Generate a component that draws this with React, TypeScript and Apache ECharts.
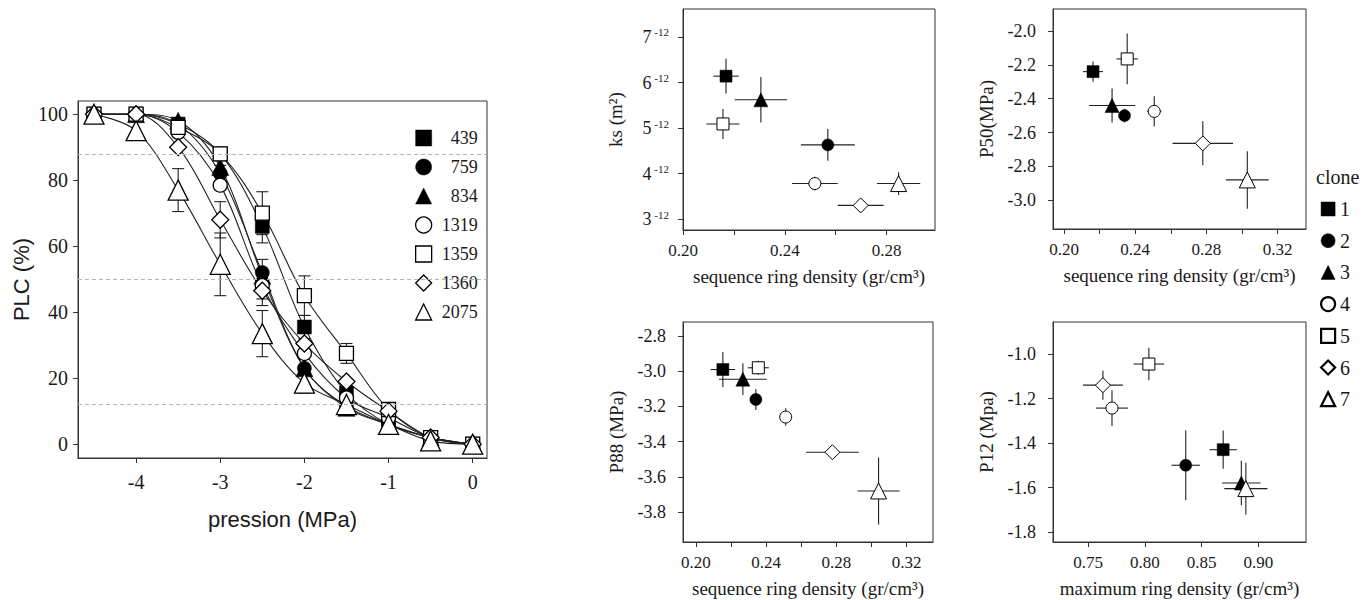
import React, { useEffect, useRef } from 'react';
import * as echarts from 'echarts';

// ---------- Left panel: vulnerability curves ----------
const pressure = [-4.5, -4, -3.5, -3, -2.5, -2, -1.5, -1, -0.5, 0];
const curveNames = ['439', '759', '834', '1319', '1359', '1360', '2075'];
const plc439 = [100, 100, 97, 88, 66, 35.5, 15.5, 6, 2, 0];
const plc759 = [100, 100, 97, 82, 52, 23, 11.5, 6, 2, 0];
const plc834 = [100, 100, 98, 84, 51, 23, 11, 6, 2, 0];
const plc1319 = [100, 100, 94.5, 78.5, 48, 27.5, 14, 8, 2, 0];
const plc1359 = [100, 100, 96, 88, 70, 45, 27.5, 10.5, 2, 0];
const plc1360 = [100, 100, 90, 68, 46.5, 30.5, 19, 10, 2, 0];
const plc2075 = [100, 95, 77, 54.5, 33.5, 18.5, 12, 6, 1, 0];
const plcErr439 = [0, 0, 0, 0, 5, 3.5, 3.5, 0, 0, 0];
const plcErr759 = [0, 0, 0, 2.5, 4, 0, 0, 0, 0, 0];
const plcErr834 = [0, 0, 0, 0, 0, 0, 0, 0, 0, 0];
const plcErr1319 = [0, 0, 0, 0, 4, 0, 0, 0, 0, 0];
const plcErr1359 = [0, 0, 0, 0, 6.5, 6, 3, 0, 0, 0];
const plcErr1360 = [0, 0, 0, 5.5, 4.5, 0, 0, 0, 0, 0];
const plcErr2075 = [0, 0, 6.5, 9.5, 7, 3, 0, 0, 0, 0];
const refLevels = [12, 50, 88];
const plcTicks = [0, 20, 40, 60, 80, 100];
const pressureTicks = [-4, -3, -2, -1, 0];

// ---------- Right panels (clones 1..7) ----------
const clones = ['1', '2', '3', '4', '5', '6', '7'];

const ksX = [0.2169, 0.2569, 0.2306, 0.2518, 0.2157, 0.2698, 0.2847];
const ksXErr = [0.005, 0.0106, 0.0103, 0.009, 0.0065, 0.009, 0.0085];
const ksY = [6.14, 4.63, 5.62, 3.78, 5.09, 3.3, 3.78];
const ksYErr = [0.38, 0.35, 0.5, 0.15, 0.33, 0.15, 0.25];

const p50X = [0.2163, 0.234, 0.227, 0.2507, 0.2355, 0.278, 0.303];
const p50XErr = [0.0056, 0.003, 0.013, 0.004, 0.006, 0.017, 0.012];
const p50Y = [-2.24, -2.5, -2.44, -2.475, -2.165, -2.664, -2.88];
const p50YErr = [0.06, 0.04, 0.1, 0.09, 0.15, 0.13, 0.17];

const p88X = [0.2153, 0.2341, 0.2267, 0.2511, 0.2355, 0.2777, 0.304];
const p88XErr = [0.007, 0.003, 0.0136, 0.003, 0.006, 0.015, 0.012];
const p88Y = [-2.99, -3.16, -3.045, -3.26, -2.98, -3.46, -3.68];
const p88YErr = [0.1, 0.06, 0.09, 0.05, 0.04, 0.03, 0.19];

const p12X = [0.869, 0.836, 0.885, 0.771, 0.8035, 0.763, 0.889];
const p12XErr = [0.012, 0.0125, 0.017, 0.014, 0.0135, 0.0176, 0.019];
const p12Y = [-1.43, -1.5, -1.58, -1.243, -1.045, -1.14, -1.605];
const p12YErr = [0.086, 0.157, 0.1, 0.08, 0.073, 0.065, 0.116];

const ksTicks = [3, 4, 5, 6, 7];
const seqTicksShort = [0.2, 0.22, 0.24, 0.26, 0.28, 0.3];
const seqLabelsShort = [0.2, 0.24, 0.28];
const seqTicks = [0.2, 0.22, 0.24, 0.26, 0.28, 0.3, 0.32];
const seqLabels = [0.2, 0.24, 0.28, 0.32];
const p50Ticks = [-3.0, -2.8, -2.6, -2.4, -2.2, -2.0];
const p88Ticks = [-3.8, -3.6, -3.4, -3.2, -3.0, -2.8];
const p12Ticks = [-1.8, -1.6, -1.4, -1.2, -1.0];
const maxTicks = [0.75, 0.8, 0.85, 0.9];

// ---------- styles ----------
const serif = 'Liberation Serif, Times New Roman, serif';
const sans = 'Liberation Sans, Arial, sans-serif';
const ink = '#1a1a1a';
const symbols = ['rect', 'circle', 'triangle', 'circle', 'rect', 'diamond', 'triangle'];
const filled = [true, true, true, false, false, false, false];
const bigSizes = [14, 14, 17, 14, 14, 17, 20];
const smallSizes = [12, 12, 14, 12, 12, 15, 16];

function axisBase(gridIndex: number, min: number, max: number, ticks: number[], labels: number[], fmt: any, fontSize: number, margin: number) {
  return {
    type: 'value',
    gridIndex,
    min,
    max,
    scale: true,
    splitLine: { show: false },
    axisLine: { show: true, onZero: false, lineStyle: { color: '#333', width: 1 } },
    axisTick: { show: true, inside: false, length: 5, customValues: ticks, lineStyle: { color: '#333' } },
    axisLabel: {
      show: true,
      customValues: labels,
      formatter: fmt,
      color: ink,
      fontSize,
      fontFamily: serif,
      margin,
    },
  };
}

function errRender(capHalf: number) {
  return (params: any, api: any) => {
    const x = api.value(0);
    const y = api.value(1);
    const xe = api.value(2);
    const ye = api.value(3);
    const c = api.coord([x, y]);
    const style = { stroke: '#222', lineWidth: 1.1 };
    const children: any[] = [];
    if (ye > 0) {
      const t = api.coord([x, y + ye]);
      const b = api.coord([x, y - ye]);
      children.push({ type: 'line', shape: { x1: c[0], y1: t[1], x2: c[0], y2: b[1] }, style });
      if (capHalf > 0) {
        children.push({ type: 'line', shape: { x1: c[0] - capHalf, y1: t[1], x2: c[0] + capHalf, y2: t[1] }, style });
        children.push({ type: 'line', shape: { x1: c[0] - capHalf, y1: b[1], x2: c[0] + capHalf, y2: b[1] }, style });
      }
    }
    if (xe > 0) {
      const l = api.coord([x - xe, y]);
      const r = api.coord([x + xe, y]);
      children.push({ type: 'line', shape: { x1: l[0], y1: c[1], x2: r[0], y2: c[1] }, style });
    }
    return { type: 'group', children };
  };
}

function itemStyleFor(i: number, bw: number) {
  return filled[i]
    ? { color: '#000', borderColor: '#000', borderWidth: 0.5, opacity: 1 }
    : { color: '#fff', borderColor: '#000', borderWidth: bw, opacity: 1 };
}

function buildOption() {
  const plcSeries = [plc439, plc759, plc834, plc1319, plc1359, plc1360, plc2075];
  const plcErrs = [plcErr439, plcErr759, plcErr834, plcErr1319, plcErr1359, plcErr1360, plcErr2075];

  const series: any[] = [];
  plcSeries.forEach((vals, i) => {
    const s: any = {
      type: 'line',
      name: 'curve-' + curveNames[i],
      xAxisIndex: 0,
      yAxisIndex: 0,
      data: pressure.map((p, k) => [p, vals[k]]),
      smooth: 0.35,
      showSymbol: false,
      symbol: 'none',
      lineStyle: { color: '#222', width: 1.1 },
      z: 1,
      silent: true,
    };
    if (i === 0) {
      s.markLine = {
        silent: true,
        symbol: ['none', 'none'],
        label: { show: false },
        lineStyle: { type: [4, 3], color: '#b5b5b5', width: 1 },
        data: refLevels.map((v) => ({ yAxis: v })),
      };
    }
    series.push(s);
  });
  plcSeries.forEach((vals, i) => {
    const data = pressure
      .map((p, k) => [p, vals[k], 0, plcErrs[i][k]])
      .filter((d) => d[3] > 0);
    series.push({
      type: 'custom',
      name: 'err-' + curveNames[i],
      xAxisIndex: 0,
      yAxisIndex: 0,
      data,
      renderItem: errRender(6),
      encode: { x: 0, y: 1 },
      z: 2,
      silent: true,
    });
  });
  plcSeries.forEach((vals, i) => {
    series.push({
      type: 'scatter',
      name: curveNames[i],
      xAxisIndex: 0,
      yAxisIndex: 0,
      data: pressure.map((p, k) => [p, vals[k]]),
      symbol: symbols[i],
      symbolSize: bigSizes[i],
      itemStyle: itemStyleFor(i, 1.3),
      z: 3,
      silent: true,
    });
  });

  const panels = [
    { xs: ksX, xe: ksXErr, ys: ksY, ye: ksYErr },
    { xs: p50X, xe: p50XErr, ys: p50Y, ye: p50YErr },
    { xs: p88X, xe: p88XErr, ys: p88Y, ye: p88YErr },
    { xs: p12X, xe: p12XErr, ys: p12Y, ye: p12YErr },
  ];
  panels.forEach((pn, pi) => {
    const axisIdx = pi + 1;
    series.push({
      type: 'custom',
      name: 'err-panel-' + pi,
      xAxisIndex: axisIdx,
      yAxisIndex: axisIdx,
      data: clones.map((_, i) => [pn.xs[i], pn.ys[i], pn.xe[i], pn.ye[i]]),
      renderItem: errRender(0),
      encode: { x: 0, y: 1 },
      z: 2,
      silent: true,
    });
    clones.forEach((c, i) => {
      series.push({
        type: 'scatter',
        name: c,
        xAxisIndex: axisIdx,
        yAxisIndex: axisIdx,
        data: [[pn.xs[i], pn.ys[i]]],
        symbol: symbols[i],
        symbolSize: smallSizes[i],
        itemStyle: itemStyleFor(i, 1),
        z: 3,
        silent: true,
      });
    });
  });

  const f2 = (v: number) => Number(v).toFixed(2);
  const f1 = (v: number) => Number(v).toFixed(1);
  const f0 = (v: number) => String(Math.round(Number(v)));
  const ksFmt = (v: number) => `{a|${Math.round(Number(v))}}{b| -12}`;

  const smallNameStyle = { fontFamily: serif, fontSize: 19, color: ink };

  const xAxis: any[] = [
    { ...axisBase(0, -4.69, 0.17, pressureTicks, pressureTicks, f0, 20, 14), name: 'pression (MPa)', nameLocation: 'middle', nameGap: 50, nameTextStyle: { fontFamily: sans, fontSize: 22, color: ink } },
    { ...axisBase(1, 0.2, 0.299, seqTicksShort, seqLabelsShort, f2, 17, 12), name: 'sequence ring density (gr/cm³)', nameLocation: 'middle', nameGap: 37, nameTextStyle: smallNameStyle },
    { ...axisBase(2, 0.1938, 0.336, seqTicks, seqLabels, f2, 17, 12), name: 'sequence ring density (gr/cm³)', nameLocation: 'middle', nameGap: 37, nameTextStyle: smallNameStyle },
    { ...axisBase(3, 0.1926, 0.335, seqTicks, seqLabels, f2, 17, 12), name: 'sequence ring density (gr/cm³)', nameLocation: 'middle', nameGap: 37, nameTextStyle: smallNameStyle },
    { ...axisBase(4, 0.719, 0.942, maxTicks, maxTicks, f2, 17, 12), name: 'maximum ring density (gr/cm³)', nameLocation: 'middle', nameGap: 37, nameTextStyle: smallNameStyle },
  ];
  const ksAxis: any = axisBase(1, 2.76, 7.615, ksTicks, ksTicks, ksFmt, 18, 14);
  ksAxis.axisLabel.rich = {
    a: { fontFamily: serif, fontSize: 18, color: ink, lineHeight: 20 },
    b: { fontFamily: serif, fontSize: 11, color: ink, lineHeight: 11, verticalAlign: 'top' },
  };
  const yAxis: any[] = [
    { ...axisBase(0, -4.2, 104, plcTicks, plcTicks, f0, 20, 10), name: 'PLC (%)', nameLocation: 'middle', nameGap: 46, nameRotate: 90, nameTextStyle: { fontFamily: sans, fontSize: 22, color: ink } },
    { ...ksAxis, name: 'ks (m²)', nameLocation: 'middle', nameGap: 58, nameRotate: 90, nameTextStyle: smallNameStyle },
    { ...axisBase(2, -3.17, -1.87, p50Ticks, p50Ticks, f1, 18, 17), name: 'P50(MPa)', nameLocation: 'middle', nameGap: 57, nameRotate: 90, nameTextStyle: smallNameStyle },
    { ...axisBase(3, -3.97, -2.72, p88Ticks, p88Ticks, f1, 18, 17), name: 'P88 (MPa)', nameLocation: 'middle', nameGap: 57, nameRotate: 90, nameTextStyle: smallNameStyle },
    { ...axisBase(4, -1.845, -0.856, p12Ticks, p12Ticks, f1, 18, 17), name: 'P12 (Mpa)', nameLocation: 'middle', nameGap: 57, nameRotate: 90, nameTextStyle: smallNameStyle },
  ];

  const gridStyle = { show: true, borderColor: '#333', borderWidth: 1, backgroundColor: 'transparent' };

  return {
    animation: false,
    backgroundColor: '#fff',
    title: {
      text: 'clone',
      left: 1316,
      top: 167,
      padding: 0,
      textStyle: { fontFamily: serif, fontSize: 20, fontWeight: 'normal', color: ink },
    },
    grid: [
      { ...gridStyle, left: 78, top: 101, width: 409, height: 357 },
      { ...gridStyle, left: 683, top: 9, width: 252, height: 221 },
      { ...gridStyle, left: 1053, top: 9, width: 253, height: 220 },
      { ...gridStyle, left: 683, top: 322, width: 250, height: 220 },
      { ...gridStyle, left: 1053, top: 322, width: 253, height: 220 },
    ],
    legend: [
      {
        orient: 'vertical',
        left: 415,
        top: 129,
        padding: 0,
        itemWidth: 16,
        itemHeight: 16,
        itemGap: 11,
        selectedMode: false,
        formatter: (name: string) => `{n|${name}}`,
        textStyle: {
          fontFamily: serif,
          rich: { n: { width: 41, align: 'right', fontFamily: serif, fontSize: 18, color: ink } },
        },
        data: curveNames.map((n, i) => ({ name: n, icon: symbols[i], itemStyle: itemStyleFor(i, 1.3) })),
      },
      {
        orient: 'vertical',
        left: 1320,
        top: 199,
        padding: 0,
        itemWidth: 14,
        itemHeight: 14,
        itemGap: 11.7,
        selectedMode: false,
        textStyle: { fontFamily: serif, fontSize: 20, color: ink },
        data: clones.map((n, i) => ({ name: n, icon: symbols[i], itemStyle: itemStyleFor(i, 2.2) })),
      },
    ],
    xAxis,
    yAxis,
    series,
  };
}

export default function App() {
  const ref = useRef<HTMLDivElement>(null);
  useEffect(() => {
    if (!ref.current) return;
    const chart = echarts.init(ref.current, null, { renderer: 'svg' });
    chart.setOption(buildOption() as any);
    return () => chart.dispose();
  }, []);
  return (
    <div
      ref={ref}
      style={{ position: 'absolute', left: 0, top: 0, width: 1366, height: 600, background: '#fff' }}
    />
  );
}
